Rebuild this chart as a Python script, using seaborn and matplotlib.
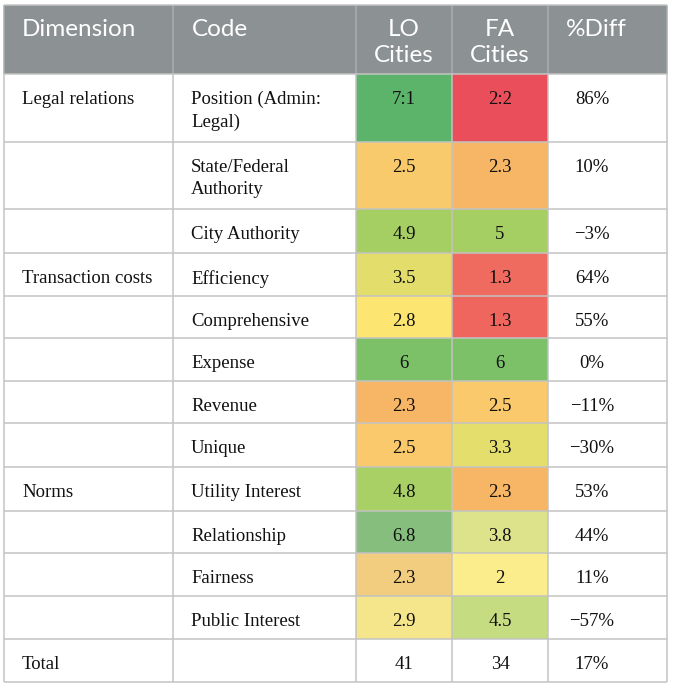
import matplotlib
matplotlib.use("Agg")
import matplotlib.pyplot as plt
from matplotlib.patches import Rectangle
import seaborn as sns

sns.set_theme(style="white")

# ── table content ────────────────────────────────────────────────────────────
headers     = ["Dimension", "Code", "LO\nCities", "FA\nCities", "%Diff"]
dimensions  = ["Legal relations", "", "", "Transaction costs", "", "", "", "",
               "Norms", "", "", "", "Total"]
codes       = ["Position (Admin:\nLegal)", "State/Federal\nAuthority", "City Authority",
               "Efficiency", "Comprehensive", "Expense", "Revenue", "Unique",
               "Utility Interest", "Relationship", "Fairness", "Public Interest", ""]
lo_cities   = ["7:1", "2.5", "4.9", "3.5", "2.8", "6", "2.3", "2.5", "4.8", "6.8", "2.3", "2.9", "41"]
fa_cities   = ["2:2", "2.3", "5", "1.3", "1.3", "6", "2.5", "3.3", "2.3", "3.8", "2", "4.5", "34"]
pct_diff    = ["86%", "10%", "\u22123%", "64%", "55%", "0%", "\u221211%", "\u221230%",
               "53%", "44%", "11%", "\u221257%", "17%"]

# cell shading (read off the reference, not a value scale)
lo_colors = ["#5cb46a", "#f9ca6c", "#a6cf63", "#e3de6c", "#fde571", "#7cc068", "#f7b665",
             "#f9c96b", "#a8d064", "#86be7e", "#f3cd7f", "#f6e68b", "white"]
fa_colors = ["#eb4e5b", "#f7b665", "#a6cf63", "#ef6b60", "#ef665f", "#7cc068", "#f9c96b",
             "#e4de6c", "#f7b665", "#dde38a", "#fbec8c", "#c6dc80", "white"]

# ── layout (pixels) ──────────────────────────────────────────────────────────
W, H = 673, 688
col_edges = [4, 173, 356, 452, 548, 667]
row_edges = [5, 74, 142, 209, 253, 296, 338, 381, 423, 467, 511, 553, 596, 639, 682]

HEADER_BG = "#8c9193"
GRID      = "#c3c3c3"
SANS      = ["Lato", "DejaVu Sans"]
SERIF     = ["Liberation Serif", "DejaVu Serif"]

fig = plt.figure(figsize=(W / 100, H / 100), dpi=100)
ax = fig.add_axes([0, 0, 1, 1])
ax.set_xlim(0, W)
ax.set_ylim(H, 0)
ax.axis("off")

# header band
ax.add_patch(Rectangle((col_edges[0], row_edges[0]), col_edges[-1] - col_edges[0],
                       row_edges[1] - row_edges[0], facecolor=HEADER_BG, edgecolor="none"))

# coloured value cells
for i in range(len(codes)):
    y0, y1 = row_edges[i + 1], row_edges[i + 2]
    for j, colors in ((2, lo_colors), (3, fa_colors)):
        ax.add_patch(Rectangle((col_edges[j], y0), col_edges[j + 1] - col_edges[j], y1 - y0,
                               facecolor=colors[i], edgecolor="none"))

# grid lines
for x in col_edges:
    ax.plot([x, x], [row_edges[0], row_edges[1]], color="#a9adaf", lw=1.1,
            solid_capstyle="butt")
    ax.plot([x, x], [row_edges[1], row_edges[-1]], color=GRID, lw=1.1,
            solid_capstyle="butt")
for y in row_edges:
    ax.plot([col_edges[0], col_edges[-1]], [y, y], color=GRID, lw=1.1,
            solid_capstyle="butt")

# header text
hx = [22, 192, 404, 500, 566]
for j, h in enumerate(headers):
    ha = "center" if j in (2, 3) else "left"
    ax.text(hx[j], row_edges[0] + 14, h, ha=ha, va="top", color="white", fontsize=17.5,
            family=SANS, linespacing=1.32)

# body text
for i in range(len(codes)):
    ty = row_edges[i + 1] + 17
    kw = dict(va="top", fontsize=13.5, family=SERIF, color="#111111", linespacing=1.4)
    ax.text(22, ty, dimensions[i], ha="left", **kw)
    ax.text(191, ty, codes[i], ha="left", **kw)
    ax.text(404, ty, lo_cities[i], ha="center", **kw)
    ax.text(500, ty, fa_cities[i], ha="center", **kw)
    ax.text(592, ty, pct_diff[i], ha="center", **kw)

fig.savefig("out.png", dpi=100, facecolor="white")
